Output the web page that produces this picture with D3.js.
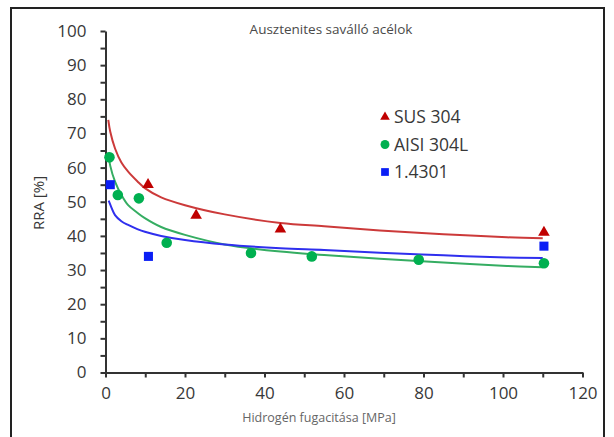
<!DOCTYPE html>
<html>
<head>
<meta charset="utf-8">
<script src="https://cdn.jsdelivr.net/npm/d3@7"></script>
<style>
  body { margin: 0; background: #fff; }
  text { font-family: "Open Sans", "Liberation Sans", sans-serif; }
  .tick text { fill: #383838; font-size: 17px; }
  .domain, .tick line { stroke: #333; }
</style>
</head>
<body>
<div id="ChartContainer"></div>
<script>
// measured points
const susX = [10.7, 22.8, 44, 110.3]
const susY = [55, 46, 42, 41]
const aisiX = [1.0, 3.1, 8.4, 15.4, 36.6, 51.9, 78.8, 110.3]
const aisiY = [63, 52, 51, 38, 35, 34, 33, 32]
const dinX = [1.2, 10.8, 110.3]
const dinY = [55, 34, 37]

// trend curves
const susTrendX = [0.7, 1.2, 2.4, 4, 5.7, 8, 9.9, 14, 20, 30, 44, 55, 69, 85, 101, 110]
const susTrendY = [74, 70.5, 65.6, 61.5, 58.8, 56, 54, 51.3, 49, 46.3, 43.8, 42.8, 41.6, 40.5, 39.6, 39.3]
const aisiTrendX = [0.7, 1.2, 2.4, 4, 5.7, 8, 9.9, 14, 20, 30, 44, 55, 69, 85, 101, 110]
const aisiTrendY = [64.5, 60.5, 55.9, 52, 49, 46.8, 45.2, 42.6, 40.3, 37.5, 35.4, 34.4, 33.3, 32.2, 31.2, 30.8]
const dinTrendX = [0.8, 1.5, 2.4, 4, 5.7, 8, 9.9, 14, 20, 30, 44, 55, 69, 85, 101, 110]
const dinTrendY = [50.3, 48.3, 46.1, 44.3, 43.2, 42, 41.2, 40, 38.8, 37.5, 36.4, 35.9, 35.1, 34.3, 33.7, 33.5]

const xTicks = [0, 20, 40, 60, 80, 100, 120]
const yTicks = [0, 10, 20, 30, 40, 50, 60, 70, 80, 90, 100]
const seriesNames = ["SUS 304", "AISI 304L", "1.4301"]

var dims = {
  width: 614,
  height: 437,
  plot: { left: 105.5, right: 582.5, top: 31, bottom: 372.5 },
}

var series = [
  { name: seriesNames[0], xs: susX, ys: susY, tx: susTrendX, ty: susTrendY,
    symbol: d3.symbolTriangle, size: 58, legendSize: 40, fill: "#c00000", line: "#cc3a3a" },
  { name: seriesNames[1], xs: aisiX, ys: aisiY, tx: aisiTrendX, ty: aisiTrendY,
    symbol: d3.symbolCircle, size: 88, legendSize: 62, fill: "#00b050", line: "#35ad62" },
  { name: seriesNames[2], xs: dinX, ys: dinY, tx: dinTrendX, ty: dinTrendY,
    symbol: d3.symbolSquare, size: 82, legendSize: 60, fill: "#0a1ef5", line: "#2f2fee" },
]

var svg = d3.select("#ChartContainer").append("svg")
  .attr("width", dims.width)
  .attr("height", dims.height)

// outer frame
svg.append("rect")
  .attr("x", 11)
  .attr("y", 8)
  .attr("width", 593)
  .attr("height", 440)
  .attr("fill", "none")
  .attr("stroke", "#222")
  .attr("stroke-width", 2)

var xScale = d3.scaleLinear().domain([0, 120]).range([dims.plot.left, dims.plot.right])
var yScale = d3.scaleLinear().domain([0, 100]).range([dims.plot.bottom, dims.plot.top])

// x axis, ticks every 10, labels every 20
var gx = svg.append("g")
  .attr("transform", `translate(0,${dims.plot.bottom})`)
  .call(d3.axisBottom(xScale)
    .tickValues(d3.range(0, 121, 10))
    .tickFormat(d => xTicks.includes(d) ? d : "")
    .tickSize(5)
    .tickSizeOuter(0)
    .tickPadding(9))
gx.select(".domain").attr("stroke-width", 2)
gx.selectAll(".tick line").attr("stroke-width", 2)

// y axis, ticks every 5, labels every 10
var gy = svg.append("g")
  .attr("transform", `translate(${dims.plot.left},0)`)
  .call(d3.axisLeft(yScale)
    .tickValues(d3.range(0, 101, 5))
    .tickFormat(d => yTicks.includes(d) ? d : "")
    .tickSize(5)
    .tickSizeOuter(0)
    .tickPadding(14))
gy.select(".domain").attr("stroke-width", 2)
gy.selectAll(".tick line").attr("stroke-width", 2)

// titles
svg.append("text")
  .attr("x", 331)
  .attr("y", 34)
  .attr("text-anchor", "middle")
  .attr("font-size", "13.5px")
  .attr("fill", "#4a4a4a")
  .text("Ausztenites saválló acélok")

svg.append("text")
  .attr("x", 319)
  .attr("y", 422)
  .attr("text-anchor", "middle")
  .attr("font-size", "12.5px")
  .attr("fill", "#666")
  .text("Hidrogén fugacitása [MPa]")

svg.append("text")
  .attr("transform", "translate(44,203) rotate(-90)")
  .attr("text-anchor", "middle")
  .attr("font-size", "15px")
  .attr("fill", "#383838")
  .text("RRA [%]")

// trend lines
var line = d3.line()
  .x(d => xScale(d[0]))
  .y(d => yScale(d[1]))
  .curve(d3.curveCatmullRom.alpha(0.5))

series.forEach(s => {
  svg.append("path")
    .datum(s.tx.map((x, i) => [x, s.ty[i]]))
    .attr("fill", "none")
    .attr("stroke", s.line)
    .attr("stroke-width", 2)
    .attr("d", line)
})

// markers
series.forEach(s => {
  svg.append("g").selectAll("path")
    .data(s.xs.map((x, i) => [x, s.ys[i]]))
    .join("path")
    .attr("transform", d => `translate(${xScale(d[0])},${yScale(d[1])})`)
    .attr("d", d3.symbol(s.symbol, s.size))
    .attr("fill", s.fill)
})

// legend
var gLegend = svg.append("g").attr("transform", "translate(385,117)")
series.forEach((s, i) => {
  var row = gLegend.append("g").attr("transform", `translate(0,${i * 27.5})`)
  row.append("path")
    .attr("d", d3.symbol(s.symbol, s.legendSize))
    .attr("fill", s.fill)
  row.append("text")
    .attr("x", 9)
    .attr("y", 6)
    .attr("font-size", "17.5px")
    .attr("fill", "#383838")
    .text(s.name)
})
</script>
</body>
</html>
